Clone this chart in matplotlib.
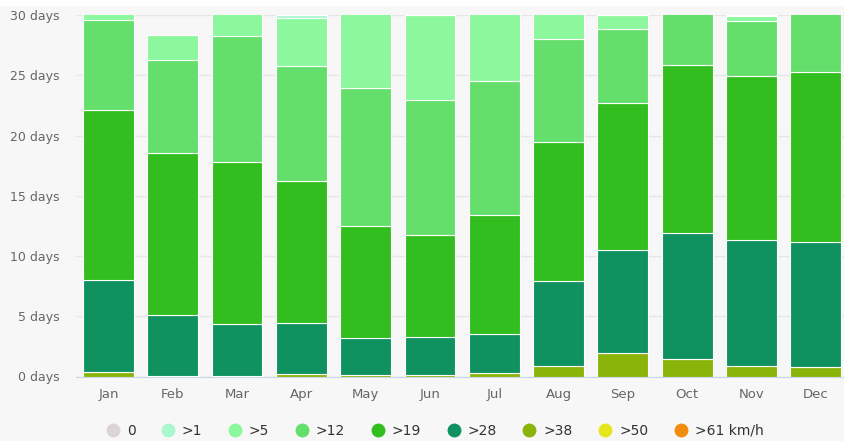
import numpy as np
import matplotlib
matplotlib.use("Agg")
import matplotlib.pyplot as plt
from matplotlib.lines import Line2D

months = ["Jan", "Feb", "Mar", "Apr", "May", "Jun",
          "Jul", "Aug", "Sep", "Oct", "Nov", "Dec"]
labels = ["0", ">1", ">5", ">12", ">19", ">28", ">38", ">50", ">61 km/h"]
colors = ["#ddd5d5", "#aaf7cf", "#8cf79c", "#64df6c", "#32be1e",
          "#0f925f", "#8ab40a", "#e6e61e", "#f28c0c"]

# days per month in each wind-speed class
d_0 = [0, 0, 0, 0, 0, 0, 0, 0, 0, 0, 0, 0]
d_1 = [0, 0, 0, 0.22, 0, 0, 0, 0, 0, 0, 0.12, 0]
d_5 = [1.4, 2.03, 2.72, 3.98, 7.0, 7.0, 6.44, 3.03, 1.17, 0, 0.36, 0]
d_12 = [7.5, 7.75, 10.51, 9.55, 11.53, 11.22, 11.13, 8.54, 6.1, 5.11, 4.6, 5.69]
d_19 = [14.1, 13.45, 13.43, 11.8, 9.22, 8.45, 9.87, 11.49, 12.21, 13.94, 13.57, 14.13]
d_28 = [7.65, 5.05, 4.29, 4.25, 3.08, 3.16, 3.29, 7.04, 8.59, 10.52, 10.45, 10.36]
d_38 = [0.35, 0.05, 0.05, 0.2, 0.15, 0.15, 0.27, 0.9, 1.93, 1.43, 0.9, 0.82]
d_50 = [0, 0, 0, 0, 0, 0, 0, 0, 0, 0, 0, 0]
d_61 = [0, 0, 0, 0, 0, 0, 0, 0, 0, 0, 0, 0]
series = [d_0, d_1, d_5, d_12, d_19, d_28, d_38, d_50, d_61]

fig = plt.figure(figsize=(8.44, 4.41), dpi=100, facecolor="#f7f7f7")
# thin white strip along the top edge, as in the page screenshot
fig.patches.append(plt.Rectangle((0, 1 - 5 / 441), 1, 5 / 441, transform=fig.transFigure,
                                 color="white", zorder=0))
ax = fig.add_axes([76.3 / 844, (441 - 376.5) / 441, 771.6 / 844, 361.5 / 441])
ax.set_facecolor("#f7f7f7")

x = np.arange(len(months))
bottom = np.zeros(len(months))
# first legend item sits on top, so stack from the last series upward
for vals, col in zip(series[::-1], colors[::-1]):
    v = np.array(vals, dtype=float)
    ax.bar(x, v, width=0.79, bottom=bottom, color=col, edgecolor="white",
           linewidth=0.8, zorder=3)
    bottom += v

ax.set_xlim(-0.5, len(months) - 0.5)
ax.set_ylim(0, 30)
ax.set_yticks(range(0, 31, 5))
ax.set_yticklabels([f"{v} days" for v in range(0, 31, 5)])
ax.set_xticks(x)
ax.set_xticklabels(months)
ax.grid(axis="y", color="#e6e6e6", lw=1, zorder=0)
for s in ["top", "right", "left"]:
    ax.spines[s].set_visible(False)
ax.spines["bottom"].set_color("#ccd6eb")
ax.tick_params(axis="both", length=0, labelsize=9, colors="#666666")
ax.tick_params(axis="x", labelsize=9.5)
ax.tick_params(axis="y", pad=12)
ax.tick_params(axis="x", pad=8)

handles = [Line2D([], [], marker="o", ls="", markersize=10, color=c,
                  markeredgewidth=0) for c in colors]
fig.legend(handles, labels, ncol=9, frameon=False, loc="center",
           bbox_to_anchor=(0.515, 0.023), fontsize=10, labelcolor="#333333",
           handletextpad=0.5, columnspacing=1.85, handlelength=1.0)

fig.savefig("out.png", dpi=100, facecolor=fig.get_facecolor())
